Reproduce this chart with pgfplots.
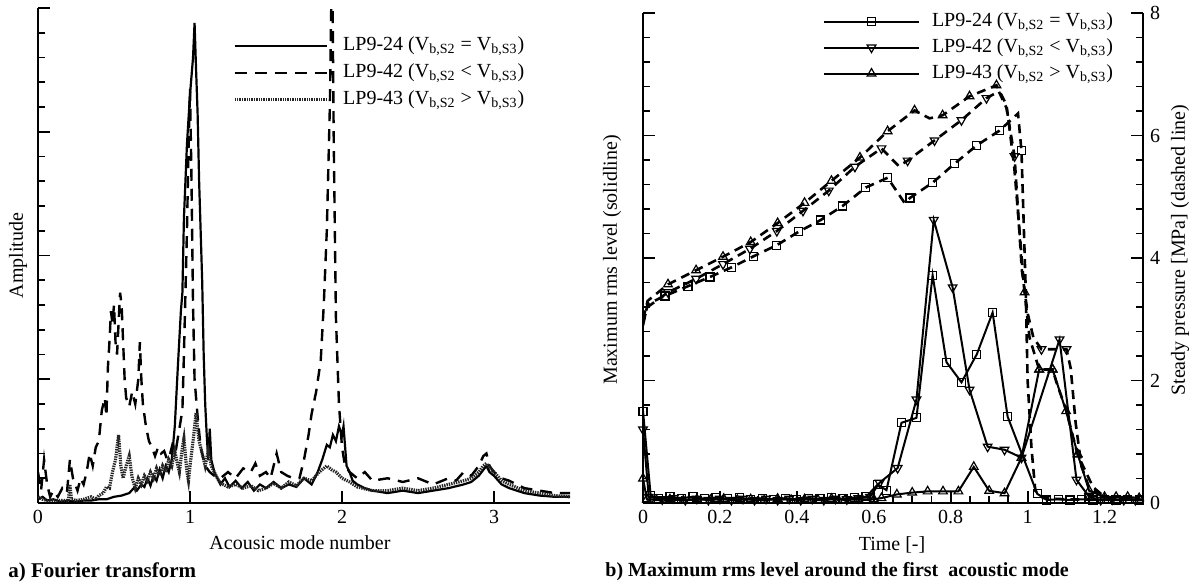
\documentclass[border=0pt]{standalone}
\usepackage{fontspec}
\setmainfont{Liberation Serif}
\usepackage{pgfplots}
\pgfplotsset{compat=1.18}
\newcommand{\Vb}[1]{V\textsubscript{b,#1}}
\begin{document}
\begin{tikzpicture}
\useasboundingbox (0,0) rectangle (599pt,292.5pt);
\pgfplotsset{
  common/.style={
    scale only axis, enlargelimits=false, clip=true,
    tick align=inside,
    major tick length=6pt, minor tick length=3.5pt,
    every tick/.style={black, line width=0.9pt},
    axis line style={line width=1.3pt},
    /pgf/number format/assume math mode=true,
    tick label style={font=\fontsize{10}{12}\selectfont},
    label style={font=\fontsize{10}{12}\selectfont},
    legend cell align=left,
  },
  lsolid/.style={black, line width=1.1pt},
  ldash/.style={black, line width=1.2pt, dash pattern=on 6pt off 4pt},
  ldot/.style={black!85, line width=1.6pt, dash pattern=on 0.7pt off 0.5pt},
  rsq/.style={black, line width=1pt, mark=square, mark size=2pt, mark options={fill=white, solid, line width=0.6pt}},
  rdn/.style={black, line width=1pt, mark=triangle, mark size=2.5pt, mark options={rotate=180, fill=white, solid, line width=0.6pt}},
  rup/.style={black, line width=1pt, mark=triangle, mark size=2.5pt, mark options={fill=white, solid, line width=0.6pt}},
  rdash/.style={line width=1.3pt, dash pattern=on 4.5pt off 3pt},
}
% ---------------- left: Fourier transform ----------------
\begin{axis}[common,
  at={(19pt,41pt)}, anchor=south west, width=266pt, height=247.5pt,
  xmin=0, xmax=3.5, ymin=0, ymax=4,
  axis lines*=left,
  xtick={0,1,2,3}, ytick={0,1,2,3,4}, minor y tick num=4,
  yticklabels={,,,,,},
  xlabel={Acousic mode number},
  xlabel style={at={(axis description cs:0.4925,-0.081)}, anchor=center},
  ylabel={Amplitude},
  ylabel style={at={(axis description cs:-0.0376,0.5)}, anchor=center},
  legend image code/.code={\draw[#1] (0pt,0pt) -- (46pt,0pt);},
  legend style={draw=none, fill=none, inner sep=0pt, outer sep=0pt,
    at={(axis description cs:0.3665,0.945)}, anchor=north west, row sep=3pt,
    nodes={inner sep=0pt, text height=7.5pt, text depth=3pt, font=\fontsize{10}{12}\selectfont},
    /tikz/every odd column/.append style={column sep=7.5pt}},
]
\addplot[lsolid] coordinates {
(0,0.03)(0.03,0.05)(0.06,0.02)(0.1,0.03)(0.15,0.01)(0.2,0.02)(0.25,0.01)(0.3,0.02)(0.35,0.02)(0.4,0.03)(0.45,0.03)(0.5,0.05)(0.55,0.06)(0.6,0.08)(0.63,0.12)(0.65,0.1)(0.68,0.15)(0.7,0.13)(0.72,0.2)(0.74,0.14)(0.76,0.22)(0.78,0.18)(0.8,0.27)(0.82,0.2)(0.84,0.3)(0.86,0.25)(0.88,0.35)(0.9,0.62)(0.92,1.1)(0.94,1.55)(0.95,1.7)(0.96,2.3)(0.98,2.9)(1.0,3.3)(1.01,3.45)(1.02,3.6)(1.03,3.88)(1.04,3.5)(1.05,3.15)(1.06,2.6)(1.08,1.8)(1.09,1.2)(1.1,0.8)(1.11,0.55)(1.12,0.35)(1.13,0.6)(1.14,0.35)(1.16,0.25)(1.18,0.2)(1.2,0.15)(1.23,0.2)(1.26,0.13)(1.3,0.18)(1.34,0.12)(1.38,0.17)(1.42,0.1)(1.46,0.15)(1.5,0.12)(1.55,0.17)(1.6,0.12)(1.65,0.15)(1.7,0.13)(1.75,0.2)(1.8,0.15)(1.84,0.25)(1.87,0.35)(1.9,0.47)(1.92,0.45)(1.94,0.55)(1.96,0.5)(1.98,0.62)(2.0,0.55)(2.01,0.62)(2.03,0.3)(2.05,0.25)(2.07,0.18)(2.1,0.15)(2.15,0.12)(2.2,0.1)(2.3,0.08)(2.4,0.1)(2.5,0.08)(2.6,0.1)(2.7,0.12)(2.8,0.15)(2.85,0.17)(2.9,0.22)(2.95,0.3)(2.97,0.25)(3.0,0.22)(3.05,0.15)(3.1,0.12)(3.2,0.08)(3.3,0.06)(3.4,0.05)(3.5,0.05)};
\addlegendentry{LP9-24 (\Vb{S2} = \Vb{S3})}
\addplot[ldash] coordinates {
(0,0.25)(0.02,0.1)(0.04,0.35)(0.06,0.15)(0.08,0.05)(0.1,0.1)(0.13,0.05)(0.16,0.12)(0.19,0.08)(0.21,0.35)(0.23,0.2)(0.26,0.1)(0.28,0.2)(0.3,0.15)(0.32,0.25)(0.34,0.4)(0.36,0.3)(0.38,0.45)(0.4,0.5)(0.42,0.75)(0.44,0.85)(0.45,0.7)(0.46,1.1)(0.47,1.3)(0.48,1.55)(0.49,1.45)(0.5,1.6)(0.51,1.3)(0.52,1.2)(0.53,1.45)(0.54,1.7)(0.55,1.6)(0.56,1.3)(0.57,1.0)(0.58,0.85)(0.6,0.78)(0.62,0.9)(0.64,0.8)(0.66,1.0)(0.67,1.3)(0.68,1.0)(0.69,0.8)(0.71,0.62)(0.73,0.5)(0.75,0.45)(0.77,0.38)(0.79,0.45)(0.81,0.4)(0.83,0.42)(0.85,0.35)(0.87,0.4)(0.89,0.5)(0.91,0.45)(0.93,0.6)(0.95,0.75)(0.96,1.2)(0.97,1.7)(0.98,2.2)(0.99,2.85)(1.0,3.35)(1.01,2.6)(1.02,1.6)(1.03,1.0)(1.05,0.7)(1.07,0.45)(1.1,0.3)(1.13,0.25)(1.16,0.22)(1.2,0.2)(1.25,0.25)(1.3,0.2)(1.35,0.28)(1.4,0.25)(1.43,0.32)(1.46,0.22)(1.5,0.25)(1.53,0.2)(1.57,0.4)(1.6,0.25)(1.64,0.22)(1.68,0.2)(1.72,0.2)(1.75,0.35)(1.78,0.55)(1.8,0.72)(1.83,0.9)(1.86,1.15)(1.88,1.6)(1.9,2.2)(1.92,3.2)(1.935,4.5)(1.945,3.0)(1.96,1.5)(1.98,0.8)(2.0,0.45)(2.02,0.3)(2.05,0.25)(2.1,0.2)(2.15,0.25)(2.2,0.18)(2.3,0.2)(2.4,0.17)(2.5,0.2)(2.6,0.15)(2.7,0.2)(2.75,0.18)(2.8,0.25)(2.85,0.22)(2.9,0.3)(2.93,0.38)(2.95,0.4)(2.97,0.3)(3.0,0.25)(3.05,0.2)(3.1,0.18)(3.2,0.12)(3.3,0.1)(3.4,0.08)(3.5,0.08)};
\addlegendentry{LP9-42 (\Vb{S2} < \Vb{S3})}
\addplot[ldot] coordinates {
(0,0.05)(0.03,0.03)(0.06,0.02)(0.1,0.02)(0.15,0.02)(0.2,0.02)(0.21,0.15)(0.22,0.03)(0.25,0.02)(0.3,0.03)(0.35,0.05)(0.38,0.03)(0.4,0.06)(0.43,0.08)(0.45,0.13)(0.47,0.12)(0.49,0.25)(0.51,0.35)(0.53,0.55)(0.545,0.3)(0.56,0.2)(0.58,0.3)(0.6,0.38)(0.62,0.2)(0.64,0.12)(0.66,0.2)(0.68,0.15)(0.7,0.22)(0.72,0.18)(0.74,0.25)(0.76,0.2)(0.78,0.28)(0.8,0.22)(0.82,0.3)(0.84,0.25)(0.86,0.35)(0.88,0.3)(0.9,0.42)(0.92,0.3)(0.93,0.25)(0.95,0.45)(0.96,0.52)(0.98,0.25)(0.99,0.18)(1.0,0.3)(1.02,0.5)(1.04,0.73)(1.05,0.6)(1.06,0.5)(1.08,0.4)(1.1,0.3)(1.12,0.42)(1.14,0.3)(1.16,0.25)(1.18,0.2)(1.2,0.16)(1.25,0.13)(1.3,0.15)(1.35,0.12)(1.4,0.14)(1.45,0.1)(1.5,0.12)(1.55,0.16)(1.6,0.12)(1.65,0.17)(1.7,0.14)(1.75,0.2)(1.8,0.18)(1.85,0.25)(1.88,0.28)(1.9,0.3)(1.93,0.27)(1.96,0.25)(2.0,0.2)(2.05,0.17)(2.1,0.13)(2.2,0.1)(2.3,0.1)(2.4,0.12)(2.5,0.1)(2.6,0.12)(2.7,0.15)(2.8,0.18)(2.85,0.2)(2.9,0.25)(2.93,0.3)(2.95,0.32)(2.98,0.27)(3.0,0.25)(3.05,0.18)(3.1,0.15)(3.2,0.1)(3.3,0.08)(3.4,0.06)(3.5,0.05)};
\addlegendentry{LP9-43 (\Vb{S2} > \Vb{S3})}
\end{axis}
% ---------------- right: rms level / pressure ----------------
\begin{axis}[common,
  at={(321.5pt,41pt)}, anchor=south west, width=250pt, height=245pt,
  xmin=0, xmax=1.3, ymin=0, ymax=8,
  axis x line*=bottom, axis y line*=left,
  xtick={0,0.2,0.4,0.6,0.8,1,1.2}, xticklabels={0,0.2,0.4,0.6,0.8,1,1.2},
  minor x tick num=3,
  ytick={0,2,4,6,8}, minor y tick num=4, yticklabels={,,,,,},
  xlabel={Time [-]},
  xlabel style={at={(axis description cs:0.498,-0.0857)}, anchor=center},
  ylabel={Maximum rms level (solidline)},
  ylabel style={at={(axis description cs:-0.062,0.496)}, anchor=center},
  legend image code/.code={\draw[mark repeat=2, mark phase=2, #1] plot coordinates {(0pt,0pt) (23.75pt,0pt) (47.5pt,0pt)};},
  legend style={draw=none, fill=none, inner sep=0pt, outer sep=0pt,
    at={(axis description cs:0.36,1.004)}, anchor=north west, row sep=2.5pt,
    nodes={inner sep=0pt, text height=7.5pt, text depth=3pt, font=\fontsize{10}{12}\selectfont},
    /tikz/every odd column/.append style={column sep=6pt}},
]
\addplot[rsq] coordinates {
(0,1.5)(0.02,0.12)(0.04,0.08)(0.07,0.1)(0.1,0.08)(0.13,0.1)(0.16,0.07)(0.19,0.09)(0.22,0.07)(0.25,0.09)(0.28,0.06)(0.31,0.08)(0.34,0.06)(0.37,0.08)(0.4,0.06)(0.43,0.08)(0.46,0.07)(0.49,0.09)(0.52,0.07)(0.55,0.09)(0.58,0.1)(0.61,0.3)(0.633,0.21)(0.672,1.31)(0.711,1.39)(0.753,3.72)(0.789,2.3)(0.828,1.97)(0.868,2.43)(0.909,3.11)(0.948,1.41)(1.025,0.15)(1.05,0.05)(1.08,0.06)(1.11,0.05)(1.14,0.06)(1.17,0.05)(1.2,0.06)(1.23,0.05)(1.26,0.06)(1.29,0.05)};
\addlegendentry{LP9-24 (\Vb{S2} = \Vb{S3})}
\addplot[rdn] coordinates {
(0,1.2)(0.015,0.1)(0.05,0.06)(0.08,0.08)(0.11,0.05)(0.14,0.07)(0.17,0.05)(0.2,0.07)(0.23,0.05)(0.26,0.07)(0.29,0.05)(0.32,0.07)(0.35,0.05)(0.38,0.07)(0.41,0.05)(0.44,0.07)(0.47,0.05)(0.5,0.07)(0.53,0.06)(0.56,0.08)(0.59,0.1)(0.615,0.33)(0.662,0.57)(0.711,1.69)(0.756,4.62)(0.805,3.52)(0.849,1.85)(0.896,0.92)(0.94,0.87)(0.984,0.74)(1.083,2.67)(1.127,0.38)(1.16,0.1)(1.19,0.05)(1.22,0.06)(1.25,0.05)(1.28,0.05)};
\addlegendentry{LP9-42 (\Vb{S2} < \Vb{S3})}
\addplot[rup] coordinates {
(0,0.4)(0.01,0.06)(0.035,0.05)(0.07,0.06)(0.105,0.04)(0.14,0.06)(0.175,0.05)(0.21,0.07)(0.245,0.05)(0.28,0.06)(0.315,0.04)(0.35,0.07)(0.385,0.05)(0.42,0.06)(0.455,0.05)(0.49,0.07)(0.525,0.05)(0.56,0.06)(0.6,0.06)(0.62,0.08)(0.66,0.14)(0.70,0.17)(0.74,0.19)(0.78,0.19)(0.82,0.19)(0.86,0.59)(0.90,0.2)(0.94,0.16)(0.984,0.74)(1.03,2.18)(1.065,2.18)(1.1,1.5)(1.13,0.8)(1.16,0.2)(1.2,0.1)(1.23,0.1)(1.26,0.1)(1.29,0.08)};
\addlegendentry{LP9-43 (\Vb{S2} > \Vb{S3})}
% dashed: steady pressure
\addplot[rsq, rdash, forget plot, mark indices={3,4,5,6,7,8,9,10,11,12,13,15,16,17,18,19,21}] coordinates {
(0,2.9)(0.012,3.25)(0.057,3.38)(0.117,3.54)(0.174,3.69)(0.231,3.85)(0.288,4.03)(0.348,4.21)(0.405,4.43)(0.462,4.62)(0.519,4.85)(0.579,5.15)(0.636,5.31)(0.68,4.9)(0.694,4.98)(0.753,5.23)(0.81,5.54)(0.868,5.84)(0.927,6.08)(0.975,6.36)(0.984,5.75)(0.995,3.5)(1.0,2.0)(1.01,0.9)(1.02,0.2)(1.04,0.08)(1.1,0.06)(1.2,0.05)(1.3,0.05)};
\addplot[rdn, rdash, forget plot, mark indices={3,4,5,6,7,8,9,10,11,13,14,15,16,19,23,24}] coordinates {
(0,2.95)(0.012,3.2)(0.065,3.44)(0.138,3.66)(0.208,3.9)(0.278,4.15)(0.348,4.44)(0.416,4.77)(0.483,5.1)(0.551,5.49)(0.62,5.79)(0.665,5.5)(0.688,5.59)(0.758,5.92)(0.828,6.25)(0.893,6.61)(0.925,6.72)(0.945,6.45)(0.966,5.66)(0.985,3.8)(1.0,3.1)(1.015,2.7)(1.036,2.51)(1.101,2.51)(1.112,2.2)(1.125,1.3)(1.14,0.6)(1.16,0.25)(1.2,0.08)(1.3,0.05)};
\addplot[rup, rdash, forget plot, mark indices={3,4,5,6,7,8,9,10,11,12,14,15,16,19,21,22,25}] coordinates {
(0,3.0)(0.012,3.3)(0.065,3.57)(0.138,3.80)(0.208,4.02)(0.28,4.26)(0.35,4.57)(0.42,4.9)(0.49,5.26)(0.564,5.64)(0.636,6.07)(0.706,6.41)(0.745,6.28)(0.779,6.33)(0.849,6.64)(0.919,6.82)(0.945,6.5)(0.965,5.5)(0.992,3.44)(1.005,2.7)(1.03,2.18)(1.065,2.18)(1.075,1.97)(1.1,1.52)(1.13,0.79)(1.17,0.26)(1.2,0.1)(1.3,0.05)};
\end{axis}
\begin{axis}[common,
  at={(321.5pt,41pt)}, anchor=south west, width=250pt, height=245pt,
  xmin=0, xmax=1.3, ymin=0, ymax=8,
  axis x line=none, axis y line*=right,
  ytick={0,2,4,6,8}, minor y tick num=4,
  ylabel={Steady pressure [MPa] (dashed line)},
  ylabel style={at={(axis description cs:1.074,0.516)}, anchor=center},
]
\addplot[draw=none] coordinates {(0,0)};
\end{axis}
\node[anchor=west, font=\fontsize{10.5}{12}\selectfont\bfseries, inner sep=0pt] at (4pt,6.5pt) {a) Fourier transform};
\node[anchor=west, font=\fontsize{10}{12}\selectfont\bfseries, inner sep=0pt] at (302.5pt,6.5pt) {b) Maximum rms level around the first~ acoustic mode};
\end{tikzpicture}
\end{document}
